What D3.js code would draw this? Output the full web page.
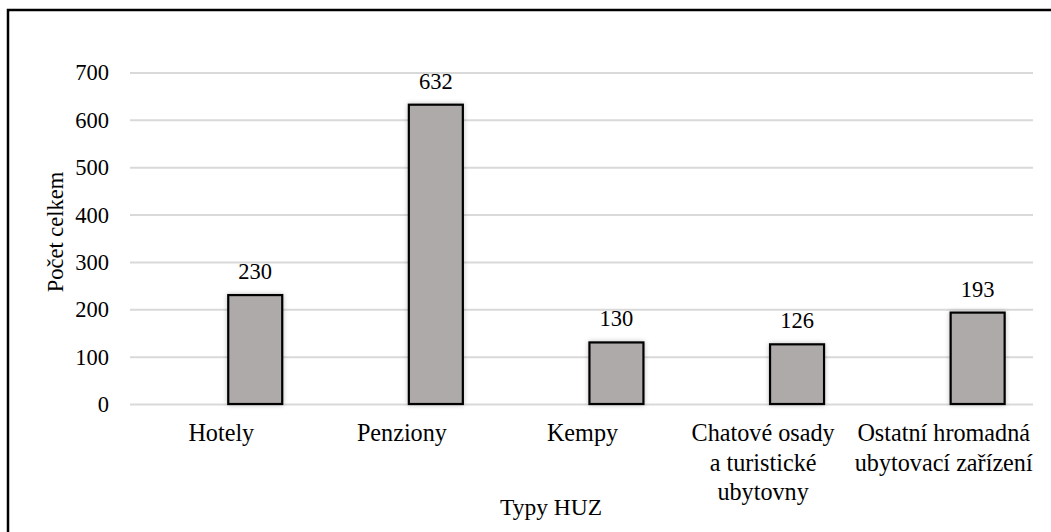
<!DOCTYPE html>
<html>
<head>
<meta charset="utf-8">
<script src="https://cdn.jsdelivr.net/npm/d3@7"></script>
<style>
html,body{margin:0;padding:0;background:#fff;}
svg{display:block;font-family:"Liberation Serif","Times New Roman",serif;}
</style>
</head>
<body>
<svg id="chart" width="1051" height="532"></svg>
<script>
const categories = ["Hotely", "Penziony", "Kempy", "Chatové osady a turistické ubytovny", "Ostatní hromadná ubytovací zařízení"];
const categoryLines = [["Hotely"], ["Penziony"], ["Kempy"], ["Chatové osady", "a turistické", "ubytovny"], ["Ostatní hromadná", "ubytovací zařízení"]];
const values = [230, 632, 130, 126, 193];
const seriesSlots = ["prázdná", "Počet celkem"];
const yTicks = [0, 100, 200, 300, 400, 500, 600, 700];
const yTitle = "Počet celkem";
const xTitle = "Typy HUZ";

(function () {
const svg = d3.select("#chart");
const fs = 22.5;
const fsCat = 24.2;

svg.append("rect").attr("x", 8).attr("y", 10).attr("width", 1100).attr("height", 600)
  .attr("fill", "none").attr("stroke", "#000").attr("stroke-width", 2.5);

const pLeft = 130, pRight = 1033, pTop = 72.5, pBottom = 404;
const x0 = d3.scaleBand().domain(categories).range([pLeft, pRight]).padding(0);
const bw = x0.bandwidth();
const x1 = d3.scaleBand().domain(seriesSlots).range([0.245 * bw, 0.843 * bw]).padding(0);
const y = d3.scaleLinear().domain([0, 700]).range([pBottom, pTop]);

const defs = svg.append("defs");
const f = defs.append("filter").attr("id", "sh").attr("x", "-20%").attr("y", "-20%").attr("width", "140%").attr("height", "140%");
f.append("feGaussianBlur").attr("in", "SourceAlpha").attr("stdDeviation", 2.5).attr("result", "b");
f.append("feComponentTransfer").attr("in", "b").attr("result", "b2")
  .append("feFuncA").attr("type", "linear").attr("slope", 0.25);
const fm = f.append("feMerge");
fm.append("feMergeNode").attr("in", "b2");
fm.append("feMergeNode").attr("in", "SourceGraphic");

const yAxis = d3.axisLeft(y).tickValues(yTicks).tickSize(-(pRight - pLeft)).tickPadding(21).tickFormat(d3.format("d"));
const gy = svg.append("g").attr("transform", `translate(${pLeft},0)`).call(yAxis);
gy.attr("font-family", null);
gy.select(".domain").remove();
gy.selectAll(".tick line").attr("stroke", "#d9d9d9").attr("stroke-width", 2);
gy.selectAll(".tick text").attr("font-size", fs).attr("fill", "#000").attr("dy", "0.33em");

const g = svg.append("g");
g.selectAll("rect.bar").data(values).enter().append("rect")
  .attr("class", "bar")
  .attr("x", (d, i) => x0(categories[i]) + x1("Počet celkem"))
  .attr("y", d => y(d))
  .attr("width", x1.bandwidth())
  .attr("height", d => y(0) - y(d))
  .attr("fill", "#aeaaaa").attr("stroke", "#000").attr("stroke-width", 2.2)
  .attr("filter", "url(#sh)");

g.selectAll("text.lbl").data(values).enter().append("text")
  .attr("class", "lbl")
  .attr("x", (d, i) => x0(categories[i]) + x1("Počet celkem") + x1.bandwidth() / 2)
  .attr("y", d => y(d) - 16)
  .attr("text-anchor", "middle").attr("font-size", fs).attr("fill", "#000")
  .text(d => d);

categoryLines.forEach((lines, i) => {
  const cx = x0(categories[i]) + bw / 2 + 1;
  const t = svg.append("text")
    .attr("x", cx).attr("y", 441)
    .attr("text-anchor", "middle").attr("font-size", fsCat).attr("fill", "#000");
  lines.forEach((ln, j) => {
    t.append("tspan").attr("x", cx).attr("dy", j === 0 ? 0 : 29.5).text(ln);
  });
});

svg.append("text").attr("transform", "translate(63,232) rotate(-90)")
  .attr("text-anchor", "middle").attr("font-size", fs).attr("fill", "#000").text(yTitle);
svg.append("text").attr("x", 551).attr("y", 515)
  .attr("text-anchor", "middle").attr("font-size", 23.5).attr("fill", "#000").text(xTitle);
})();
</script>
</body>
</html>
